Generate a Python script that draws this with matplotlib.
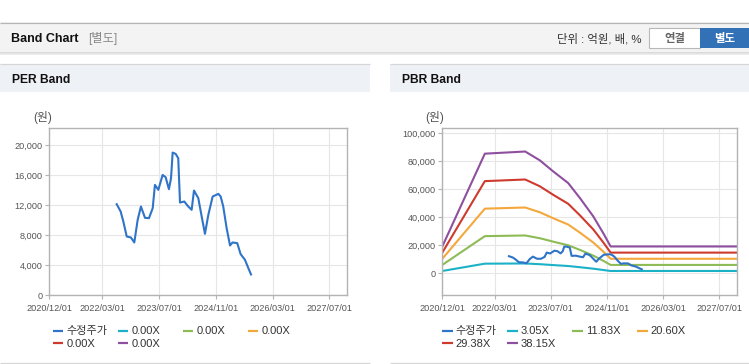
import matplotlib
matplotlib.use('Agg')
import matplotlib.pyplot as plt
from matplotlib.patches import Rectangle
from matplotlib.lines import Line2D
from matplotlib.ticker import FuncFormatter, FixedLocator
import pandas as pd

plt.rcParams['font.family'] = ['Liberation Sans', 'Noto Sans CJK KR']

# ---------------- data ----------------
price_dates = ['2022-07-02', '2022-08-05', '2022-08-28', '2022-09-26', '2022-11-01', '2022-11-30',
               '2022-12-29', '2023-01-26', '2023-03-02', '2023-04-05', '2023-05-07', '2023-05-26',
               '2023-06-24', '2023-07-31', '2023-08-26', '2023-09-23', '2023-10-11', '2023-10-25',
               '2023-11-20', '2023-12-12', '2023-12-27', '2024-02-02', '2024-03-07', '2024-04-05',
               '2024-04-25', '2024-06-01', '2024-06-30', '2024-07-28', '2024-08-26', '2024-10-02',
               '2024-11-20', '2024-12-10', '2025-01-01', '2025-01-30', '2025-02-28', '2025-03-22',
               '2025-05-01', '2025-05-30', '2025-07-06', '2025-08-04', '2025-08-27']
price = [12150, 11175, 9845, 7850, 7716, 7050, 10067, 11840, 10330, 10290, 11620, 14720,
         14060, 16050, 15740, 14150, 15610, 19025, 18850, 18270, 12370, 12505, 11840, 11400,
         13970, 12950, 10510, 8200, 10730, 13170, 13525, 13170, 11840, 8960, 6650, 7050,
         6960, 5500, 4745, 3640, 2790]

band_dates = ['2020-12-01', '2021-12-05', '2022-11-20', '2023-03-27', '2023-07-21', '2023-11-28',
              '2024-03-09', '2024-07-03', '2024-09-27', '2024-11-30', '2027-12-31']
pbr_305 = [1600, 6817, 6939, 6436, 5804, 5139, 4282, 3236, 2284, 1600, 1600]
pbr_1183 = [5915, 26440, 26913, 24961, 22512, 19934, 16609, 12552, 8861, 5915, 5915]
pbr_2060 = [10300, 46041, 46865, 43466, 39202, 34711, 28922, 21857, 15429, 10300, 10300]
pbr_2938 = [14690, 65664, 66840, 61992, 55910, 49505, 41250, 31172, 22006, 14690, 14690]
pbr_3815 = [19075, 85265, 86791, 80497, 72599, 64283, 53563, 40477, 28574, 19075, 19075]

per_labels = ['수정주가', '0.00X', '0.00X', '0.00X', '0.00X', '0.00X']
pbr_labels = ['수정주가', '3.05X', '11.83X', '20.60X', '29.38X', '38.15X']
series_colors = ['#2f74c8', '#1cb2c6', '#8dbb55', '#f4a83c', '#cf3a2e', '#8e4f9e']

x_ticks = ['2020-12-01', '2022-03-01', '2023-07-01', '2024-11-01', '2026-03-01', '2027-07-01']
x_range = ['2020-12-01', '2027-12-01']
per_yticks = [0, 4000, 8000, 12000, 16000, 20000]
pbr_yticks = [0, 20000, 40000, 60000, 80000, 100000]

# ---------------- figure ----------------
W, H = 749, 364
fig = plt.figure(figsize=(W / 100, H / 100), dpi=100)
fig.patch.set_facecolor('white')


def fx(x):
    return x / W


def fy(y):
    return 1 - y / H


def rect(x0, y0, x1, y1, color, z=0, ec='none', lw=0):
    fig.patches.append(Rectangle((fx(x0), fy(y1)), (x1 - x0) / W, (y1 - y0) / H,
                                 transform=fig.transFigure, facecolor=color,
                                 edgecolor=ec, lw=lw, zorder=z))


def hline(x0, x1, y, color, lw=1.0):
    fig.add_artist(Line2D([fx(x0), fx(x1)], [fy(y), fy(y)], transform=fig.transFigure,
                          color=color, lw=lw * 0.72, solid_capstyle='butt'))


# header bar
rect(0, 22, 749, 52, '#f3f3f3')
hline(0, 749, 22.5, '#b5b5b5', 1.2)
hline(0, 749, 52.5, '#cfcfcf', 1.5)
hline(0, 749, 54, '#e8e8e8', 1.5)
fig.text(fx(11), fy(38.5), 'Band Chart', fontsize=9, fontweight='bold', va='center', color='#111111')
fig.text(fx(88), fy(38.5), '[별도]', fontsize=8.8, va='center', color='#888888')
fig.text(fx(641.5), fy(38.5), '단위 : 억원, 배, %', fontsize=8.2, va='center', ha='right', color='#333333')
rect(649, 28.5, 700, 48, 'white', ec='#b8b8b8', lw=0.8)
rect(700, 28.5, 749, 48, '#3371b7')
fig.text(fx(674.5), fy(38.5), '연결', fontsize=8.2, fontweight='bold', va='center', ha='center', color='#666666')
fig.text(fx(724.5), fy(38.5), '별도', fontsize=8.2, fontweight='bold', va='center', ha='center', color='white')

# panel headers
for (x0, x1, title) in [(0, 370, 'PER Band'), (390, 749, 'PBR Band')]:
    rect(x0, 64, x1, 92, '#eef1f6')
    hline(x0, x1, 64.3, '#d6d6d6', 1.2)
    hline(x0, x1, 362.5, '#d6d6d6', 1.2)
    fig.text(fx(x0 + 11.5), fy(80), title, fontsize=8.7, fontweight='bold', va='center', color='#111111')

xd = pd.to_datetime(x_ticks)
xr = pd.to_datetime(x_range)
pd_dates = pd.to_datetime(price_dates)
bd = pd.to_datetime(band_dates)


def style(ax, yticks, ylim):
    ax.set_xlim(xr[0], xr[1])
    ax.set_ylim(*ylim)
    ax.xaxis.set_major_locator(FixedLocator([matplotlib.dates.date2num(d) for d in xd]))
    ax.xaxis.set_major_formatter(FuncFormatter(lambda v, p: matplotlib.dates.num2date(v).strftime('%Y/%m/%d')))
    ax.yaxis.set_major_locator(FixedLocator(yticks))
    ax.yaxis.set_major_formatter(FuncFormatter(lambda v, p: f'{v:,.0f}'))
    ax.grid(True, color='#e6e6e6', lw=0.8)
    ax.set_axisbelow(True)
    for s in ax.spines.values():
        s.set_color('#b3b3b3')
        s.set_linewidth(1.0)
    ax.tick_params(axis='both', colors='#b3b3b3', labelcolor='#555555', labelsize=6.6,
                   length=3, width=0.8)
    ax.tick_params(axis='y', pad=2)
    ax.tick_params(axis='x', pad=3.5)


ax_bottom = 295.4
ax_top = 128.3

axL = fig.add_axes([fx(49.3), fy(ax_bottom), 298 / W, (ax_bottom - ax_top) / H])
style(axL, per_yticks, (0, 22260))
axL.plot(pd_dates, price, color=series_colors[0], lw=1.5)

axR = fig.add_axes([fx(442.3), fy(ax_bottom), 294.7 / W, (ax_bottom - ax_top) / H])
style(axR, pbr_yticks, (-15820, 103350))
for vals, c in zip([pbr_305, pbr_1183, pbr_2060, pbr_2938, pbr_3815], series_colors[1:]):
    axR.plot(bd, vals, color=c, lw=1.5)
axR.plot(pd_dates, price, color=series_colors[0], lw=1.5)

fig.text(fx(33), fy(118), '(원)', fontsize=8.5, va='center', color='#555555')
fig.text(fx(425), fy(118), '(원)', fontsize=8.5, va='center', color='#555555')


def legend(base_x, labels):
    for i, (lab, c) in enumerate(zip(labels, series_colors)):
        col, row = i % 4, i // 4
        x0 = base_x + col * 65
        y = 330.5 + row * 12.8
        hline(x0, x0 + 10.5, y, c, 2.2)
        fig.text(fx(x0 + 13.5), fy(y + 0.3), lab, fontsize=8, va='center', color='#333333')


legend(52.7, per_labels)
legend(442.3, pbr_labels)

fig.savefig('out.png', dpi=100, facecolor='white')
